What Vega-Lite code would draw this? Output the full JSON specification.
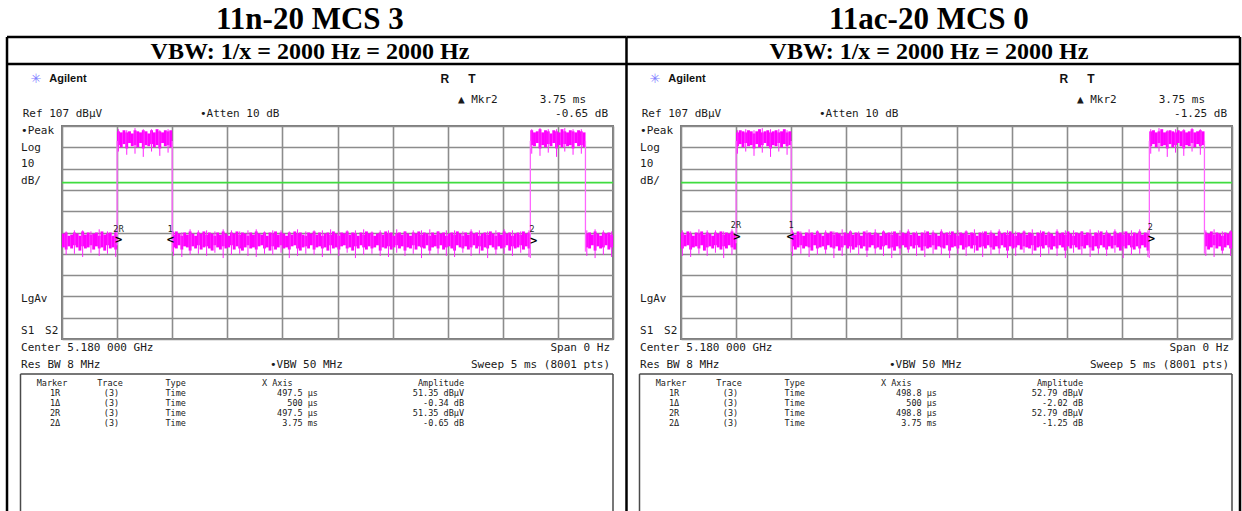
{
"$schema":"https://vega.github.io/schema/vega-lite/v6.json",
"padding":0,
"bounds":"flush",
"spacing":68,
"background":"#ffffff",
"config":{"view":{"stroke":"#7c7c7c","strokeWidth":2}},
"data":{"values":[
{"p":"L","k":"bg","t":-0.5445,"t2":5.3176,"a":165.685,"b":-74.22},
{"p":"R","k":"bg","t":-0.2995,"t2":5.1089,"a":165.685,"b":-74.22},
{"p":"L","k":"gl","t":0,"t2":5,"a":80.4},
{"p":"R","k":"gl","t":0,"t2":5,"a":80.4},
{"p":"L","k":"e","t":0.5,"a":51,"b":100},{"p":"L","k":"e","t":1.0,"a":48,"b":100},{"p":"L","k":"e","t":4.25,"a":45,"b":100},{"p":"L","k":"e","t":4.75,"a":48,"b":100},
{"p":"R","k":"e","t":0.5,"a":52,"b":100},{"p":"R","k":"e","t":1.0,"a":48,"b":100},{"p":"R","k":"e","t":4.25,"a":45,"b":100},{"p":"R","k":"e","t":4.75,"a":47,"b":100},
{"p":"L","k":"tb","t":-0.499,"t2":5.123,"a":148.8,"b":148.8},
{"p":"L","k":"tb","t":-0.499,"t2":5.123,"a":136.1,"b":136.1},
{"p":"L","k":"tb","t":-0.499,"t2":-0.499,"a":148.8,"b":-74.2},
{"p":"R","k":"tb","t":-0.4946,"t2":5.0726,"a":148.8,"b":148.8},
{"p":"R","k":"tb","t":-0.4946,"t2":5.0726,"a":136.1,"b":136.1},
{"p":"R","k":"tb","t":-0.4946,"t2":-0.4946,"a":148.8,"b":-74.2},
{"p":"R","k":"tb","t":5.0726,"t2":5.0726,"a":148.8,"b":-74.2},
{"p":"L","k":"bx","t":-0.3766,"t2":5.0,"a":-9.44,"b":-9.44},
{"p":"L","k":"bx","t":-0.3766,"t2":-0.3766,"a":-9.44,"b":-74.2},
{"p":"L","k":"bx","t":5.0,"t2":5.0,"a":-9.44,"b":-74.2},
{"p":"R","k":"bx","t":-0.3766,"t2":5.0,"a":-9.44,"b":-9.44},
{"p":"R","k":"bx","t":-0.3766,"t2":-0.3766,"a":-9.44,"b":-74.2},
{"p":"R","k":"bx","t":5.0,"t2":5.0,"a":-9.44,"b":-74.2},
{"p":"L","k":"ti","t":2.25,"a":152.5,"s":"11n-20 MCS 3"},
{"p":"R","k":"ti","t":2.25,"a":152.5,"s":"11ac-20 MCS 0"},
{"p":"L","k":"hd","t":2.25,"a":138.46,"s":"VBW: 1/x = 2000 Hz = 2000 Hz"},
{"p":"R","k":"hd","t":2.25,"a":138.46,"s":"VBW: 1/x = 2000 Hz = 2000 Hz"},
{"p":"L","k":"st","t":-0.236,"a":129.07,"s":"✳"},
{"p":"R","k":"st","t":-0.236,"a":129.07,"s":"✳"},
{"p":"L","k":"ag","t":-0.115,"a":129.07,"s":"Agilent"},
{"p":"R","k":"ag","t":-0.115,"a":129.07,"s":"Agilent"},
{"p":"L","k":"rt","t":3.475,"a":129.3,"s":"R"},{"p":"L","k":"rt","t":3.72,"a":129.3,"s":"T"},
{"p":"R","k":"rt","t":3.475,"a":129.3,"s":"R"},{"p":"R","k":"rt","t":3.72,"a":129.3,"s":"T"},
{"p":"L","k":"ml","t":3.593,"a":119.2,"s":"▲ Mkr2"},
{"p":"L","k":"ml","t":-0.357,"a":112.6,"s":"Ref 107 dBµV"},
{"p":"L","k":"ml","t":1.252,"a":112.6,"s":"•Atten 10 dB"},
{"p":"L","k":"ml","t":-0.372,"a":104.65,"s":"•Peak"},
{"p":"L","k":"ml","t":-0.372,"a":96.8,"s":"Log"},
{"p":"L","k":"ml","t":-0.372,"a":89.0,"s":"10"},
{"p":"L","k":"ml","t":-0.372,"a":81.2,"s":"dB/"},
{"p":"L","k":"ml","t":-0.372,"a":25.8,"s":"LgAv"},
{"p":"L","k":"ml","t":-0.372,"a":10.8,"s":"S1"},
{"p":"L","k":"ml","t":-0.154,"a":10.8,"s":"S2"},
{"p":"L","k":"ml","t":-0.372,"a":2.77,"s":"Center 5.180 000 GHz"},
{"p":"L","k":"ml","t":-0.372,"a":-5.2,"s":"Res BW 8 MHz"},
{"p":"L","k":"ml","t":1.887,"a":-5.2,"s":"•VBW 50 MHz"},
{"p":"R","k":"ml","t":3.593,"a":119.2,"s":"▲ Mkr2"},
{"p":"R","k":"ml","t":-0.357,"a":112.6,"s":"Ref 107 dBµV"},
{"p":"R","k":"ml","t":1.252,"a":112.6,"s":"•Atten 10 dB"},
{"p":"R","k":"ml","t":-0.372,"a":104.65,"s":"•Peak"},
{"p":"R","k":"ml","t":-0.372,"a":96.8,"s":"Log"},
{"p":"R","k":"ml","t":-0.372,"a":89.0,"s":"10"},
{"p":"R","k":"ml","t":-0.372,"a":81.2,"s":"dB/"},
{"p":"R","k":"ml","t":-0.372,"a":25.8,"s":"LgAv"},
{"p":"R","k":"ml","t":-0.372,"a":10.8,"s":"S1"},
{"p":"R","k":"ml","t":-0.154,"a":10.8,"s":"S2"},
{"p":"R","k":"ml","t":-0.372,"a":2.77,"s":"Center 5.180 000 GHz"},
{"p":"R","k":"ml","t":-0.372,"a":-5.2,"s":"Res BW 8 MHz"},
{"p":"R","k":"ml","t":1.887,"a":-5.2,"s":"•VBW 50 MHz"},
{"p":"L","k":"mr","t":4.755,"a":119.2,"s":"3.75 ms"},
{"p":"L","k":"mr","t":4.955,"a":112.6,"s":"-0.65 dB"},
{"p":"L","k":"mr","t":4.973,"a":2.77,"s":"Span 0 Hz"},
{"p":"L","k":"mr","t":4.973,"a":-5.2,"s":"Sweep 5 ms (8001 pts)"},
{"p":"R","k":"mr","t":4.755,"a":119.2,"s":"3.75 ms"},
{"p":"R","k":"mr","t":4.955,"a":112.6,"s":"-1.25 dB"},
{"p":"R","k":"mr","t":4.973,"a":2.77,"s":"Span 0 Hz"},
{"p":"R","k":"mr","t":4.973,"a":-5.2,"s":"Sweep 5 ms (8001 pts)"},
{"p":"L","k":"tc","t":-0.0907,"a":-13.66,"s":"Marker"},{"p":"L","k":"tc","t":0.4356,"a":-13.66,"s":"Trace"},
{"p":"L","k":"tc","t":-0.0635,"a":-18.35,"s":"1R"},{"p":"L","k":"tc","t":-0.0635,"a":-23.05,"s":"1Δ"},{"p":"L","k":"tc","t":-0.0635,"a":-27.74,"s":"2R"},{"p":"L","k":"tc","t":-0.0635,"a":-32.43,"s":"2Δ"},
{"p":"L","k":"tc","t":0.449,"a":-18.35,"s":"(3)"},{"p":"L","k":"tc","t":0.449,"a":-23.05,"s":"(3)"},{"p":"L","k":"tc","t":0.449,"a":-27.74,"s":"(3)"},{"p":"L","k":"tc","t":0.449,"a":-32.43,"s":"(3)"},
{"p":"L","k":"tl","t":0.939,"a":-13.66,"s":"Type"},{"p":"L","k":"tl","t":1.815,"a":-13.66,"s":"X Axis"},
{"p":"L","k":"tl","t":0.939,"a":-18.35,"s":"Time"},{"p":"L","k":"tl","t":0.939,"a":-23.05,"s":"Time"},{"p":"L","k":"tl","t":0.939,"a":-27.74,"s":"Time"},{"p":"L","k":"tl","t":0.939,"a":-32.43,"s":"Time"},
{"p":"L","k":"tr","t":2.323,"a":-18.35,"s":"497.5 µs"},{"p":"L","k":"tr","t":2.323,"a":-23.05,"s":"500 µs"},{"p":"L","k":"tr","t":2.323,"a":-27.74,"s":"497.5 µs"},{"p":"L","k":"tr","t":2.323,"a":-32.43,"s":"3.75 ms"},
{"p":"L","k":"tr","t":3.648,"a":-13.66,"s":"Amplitude"},{"p":"L","k":"tr","t":3.648,"a":-18.35,"s":"51.35 dBµV"},{"p":"L","k":"tr","t":3.648,"a":-23.05,"s":"-0.34 dB"},{"p":"L","k":"tr","t":3.648,"a":-27.74,"s":"51.35 dBµV"},{"p":"L","k":"tr","t":3.648,"a":-32.43,"s":"-0.65 dB"},
{"p":"R","k":"tc","t":-0.0907,"a":-13.66,"s":"Marker"},{"p":"R","k":"tc","t":0.4356,"a":-13.66,"s":"Trace"},
{"p":"R","k":"tc","t":-0.0635,"a":-18.35,"s":"1R"},{"p":"R","k":"tc","t":-0.0635,"a":-23.05,"s":"1Δ"},{"p":"R","k":"tc","t":-0.0635,"a":-27.74,"s":"2R"},{"p":"R","k":"tc","t":-0.0635,"a":-32.43,"s":"2Δ"},
{"p":"R","k":"tc","t":0.449,"a":-18.35,"s":"(3)"},{"p":"R","k":"tc","t":0.449,"a":-23.05,"s":"(3)"},{"p":"R","k":"tc","t":0.449,"a":-27.74,"s":"(3)"},{"p":"R","k":"tc","t":0.449,"a":-32.43,"s":"(3)"},
{"p":"R","k":"tl","t":0.939,"a":-13.66,"s":"Type"},{"p":"R","k":"tl","t":1.815,"a":-13.66,"s":"X Axis"},
{"p":"R","k":"tl","t":0.939,"a":-18.35,"s":"Time"},{"p":"R","k":"tl","t":0.939,"a":-23.05,"s":"Time"},{"p":"R","k":"tl","t":0.939,"a":-27.74,"s":"Time"},{"p":"R","k":"tl","t":0.939,"a":-32.43,"s":"Time"},
{"p":"R","k":"tr","t":2.323,"a":-18.35,"s":"498.8 µs"},{"p":"R","k":"tr","t":2.323,"a":-23.05,"s":"500 µs"},{"p":"R","k":"tr","t":2.323,"a":-27.74,"s":"498.8 µs"},{"p":"R","k":"tr","t":2.323,"a":-32.43,"s":"3.75 ms"},
{"p":"R","k":"tr","t":3.648,"a":-13.66,"s":"Amplitude"},{"p":"R","k":"tr","t":3.648,"a":-18.35,"s":"52.79 dBµV"},{"p":"R","k":"tr","t":3.648,"a":-23.05,"s":"-2.02 dB"},{"p":"R","k":"tr","t":3.648,"a":-27.74,"s":"52.79 dBµV"},{"p":"R","k":"tr","t":3.648,"a":-32.43,"s":"-1.25 dB"},
{"p":"L","k":"mk","t":0.514,"a":53.3,"s":">"},{"p":"L","k":"mk","t":0.983,"a":53.3,"s":"<"},{"p":"L","k":"mk","t":4.28,"a":52.8,"s":">"},
{"p":"L","k":"mkl","t":0.514,"a":58,"s":"2R"},{"p":"L","k":"mkl","t":0.983,"a":58.2,"s":"1"},{"p":"L","k":"mkl","t":4.265,"a":58.4,"s":"2"},
{"p":"R","k":"mk","t":0.508,"a":54.9,"s":">"},{"p":"R","k":"mk","t":0.99,"a":54.9,"s":"<"},{"p":"R","k":"mk","t":4.27,"a":53.8,"s":">"},
{"p":"R","k":"mkl","t":0.5,"a":60,"s":"2R"},{"p":"R","k":"mkl","t":1.0,"a":60,"s":"1"},{"p":"R","k":"mkl","t":4.259,"a":59.3,"s":"2"},
{"p":"L","t":0.0125,"a":50,"b":56.5},{"p":"L","t":0.0375,"a":49,"b":57,"c":46.5,"d":57.5},{"p":"L","t":0.0625,"a":50.5,"b":55.5},{"p":"L","t":0.0875,"a":49.5,"b":56},{"p":"L","t":0.1125,"a":51,"b":57,"c":47,"d":58},
{"p":"L","t":0.1375,"a":50,"b":56.5},{"p":"L","t":0.1625,"a":48.5,"b":55.5},{"p":"L","t":0.1875,"a":50.5,"b":57.5,"c":45.5,"d":58},{"p":"L","t":0.2125,"a":49.5,"b":56},{"p":"L","t":0.2375,"a":50,"b":57},
{"p":"L","t":0.2625,"a":51,"b":56,"c":47.5,"d":57.5},{"p":"L","t":0.2875,"a":49,"b":56.5},{"p":"L","t":0.3125,"a":50.5,"b":57},{"p":"L","t":0.3375,"a":49.5,"b":55.5,"c":46,"d":58.5},{"p":"L","t":0.3625,"a":50,"b":57.5},
{"p":"L","t":0.3875,"a":48.5,"b":56},{"p":"L","t":0.4125,"a":51,"b":56.5,"c":47,"d":57.5},{"p":"L","t":0.4375,"a":49.5,"b":57},{"p":"L","t":0.4625,"a":50,"b":55.5},{"p":"L","t":0.4875,"a":49,"b":57,"c":45.5,"d":58},
{"p":"L","t":0.5125,"a":98,"b":104.5,"c":95,"d":105.5},{"p":"L","t":0.5375,"a":97,"b":104},{"p":"L","t":0.5625,"a":98.5,"b":105},{"p":"L","t":0.5875,"a":96.5,"b":104,"c":93.5,"d":105},{"p":"L","t":0.6125,"a":99,"b":104.5},
{"p":"L","t":0.6375,"a":97.5,"b":103.5},{"p":"L","t":0.6625,"a":98,"b":105,"c":94,"d":106},{"p":"L","t":0.6875,"a":97,"b":104.5},{"p":"L","t":0.7125,"a":99,"b":104},{"p":"L","t":0.7375,"a":96.5,"b":105,"c":92.5,"d":105.5},
{"p":"L","t":0.7625,"a":98,"b":104.5},{"p":"L","t":0.7875,"a":97.5,"b":103.5},{"p":"L","t":0.8125,"a":98.5,"b":105,"c":95,"d":105.5},{"p":"L","t":0.8375,"a":97,"b":104},{"p":"L","t":0.8625,"a":98,"b":105.5},
{"p":"L","t":0.8875,"a":96.5,"b":104.5,"c":93,"d":105},{"p":"L","t":0.9125,"a":99,"b":104},{"p":"L","t":0.9375,"a":97.5,"b":105},{"p":"L","t":0.9625,"a":98,"b":104.5,"c":94.5,"d":105.5},{"p":"L","t":0.9875,"a":97,"b":105},
{"p":"L","t":1.0125,"a":50,"b":56,"c":46,"d":57.5},{"p":"L","t":1.0375,"a":49.5,"b":57.5},{"p":"L","t":1.0625,"a":51,"b":56.5},{"p":"L","t":1.0875,"a":49,"b":55.5,"c":45.5,"d":57},{"p":"L","t":1.1125,"a":50.5,"b":57},
{"p":"L","t":1.1375,"a":50,"b":56},{"p":"L","t":1.1625,"a":48.5,"b":57.5,"c":46.5,"d":58.5},{"p":"L","t":1.1875,"a":50.5,"b":56.5},{"p":"L","t":1.2125,"a":49.5,"b":55.5},{"p":"L","t":1.2375,"a":51,"b":57,"c":47,"d":58},
{"p":"L","t":1.2625,"a":49,"b":56.5},{"p":"L","t":1.2875,"a":50,"b":57.5},{"p":"L","t":1.3125,"a":50.5,"b":56,"c":46,"d":58},{"p":"L","t":1.3375,"a":49.5,"b":57},{"p":"L","t":1.3625,"a":48.5,"b":56.5},
{"p":"L","t":1.3875,"a":51,"b":55.5,"c":47.5,"d":57.5},{"p":"L","t":1.4125,"a":50,"b":57},{"p":"L","t":1.4375,"a":49,"b":56},{"p":"L","t":1.4625,"a":50.5,"b":57.5,"c":45,"d":58.5},{"p":"L","t":1.4875,"a":49.5,"b":56.5},
{"p":"L","t":1.5125,"a":50,"b":55.5},{"p":"L","t":1.5375,"a":51,"b":57,"c":46.5,"d":58},{"p":"L","t":1.5625,"a":49,"b":56.5},{"p":"L","t":1.5875,"a":50.5,"b":57.5},{"p":"L","t":1.6125,"a":49.5,"b":56,"c":47,"d":57.5},
{"p":"L","t":1.6375,"a":48.5,"b":57},{"p":"L","t":1.6625,"a":50,"b":56.5},{"p":"L","t":1.6875,"a":51,"b":55.5,"c":46,"d":58},{"p":"L","t":1.7125,"a":49.5,"b":57},{"p":"L","t":1.7375,"a":50,"b":56},
{"p":"L","t":1.7625,"a":49,"b":57.5,"c":45.5,"d":58.5},{"p":"L","t":1.7875,"a":50.5,"b":56.5},{"p":"L","t":1.8125,"a":51,"b":56},{"p":"L","t":1.8375,"a":49.5,"b":57,"c":47,"d":57.5},{"p":"L","t":1.8625,"a":50,"b":55.5},
{"p":"L","t":1.8875,"a":48.5,"b":57},{"p":"L","t":1.9125,"a":50.5,"b":56.5,"c":46.5,"d":58},{"p":"L","t":1.9375,"a":49,"b":57.5},{"p":"L","t":1.9625,"a":50,"b":56},{"p":"L","t":1.9875,"a":51,"b":57,"c":47.5,"d":58},
{"p":"L","t":2.0125,"a":49.5,"b":56.5},{"p":"L","t":2.0375,"a":50,"b":55.5},{"p":"L","t":2.0625,"a":49,"b":57,"c":45,"d":57.5},{"p":"L","t":2.0875,"a":50.5,"b":56},{"p":"L","t":2.1125,"a":51,"b":57.5},
{"p":"L","t":2.1375,"a":49.5,"b":56.5,"c":46,"d":58.5},{"p":"L","t":2.1625,"a":48.5,"b":57},{"p":"L","t":2.1875,"a":50,"b":56},{"p":"L","t":2.2125,"a":50.5,"b":55.5,"c":47,"d":57.5},{"p":"L","t":2.2375,"a":49.5,"b":57},
{"p":"L","t":2.2625,"a":51,"b":56.5},{"p":"L","t":2.2875,"a":49,"b":57.5,"c":46.5,"d":58},{"p":"L","t":2.3125,"a":50,"b":56},{"p":"L","t":2.3375,"a":50.5,"b":57},{"p":"L","t":2.3625,"a":49.5,"b":55.5,"c":45.5,"d":58},
{"p":"L","t":2.3875,"a":50,"b":56.5},{"p":"L","t":2.4125,"a":48.5,"b":57},{"p":"L","t":2.4375,"a":51,"b":56,"c":47,"d":58.5},{"p":"L","t":2.4625,"a":49.5,"b":57.5},{"p":"L","t":2.4875,"a":50,"b":56.5},
{"p":"L","t":2.5125,"a":49,"b":55.5,"c":46,"d":57.5},{"p":"L","t":2.5375,"a":50.5,"b":57},{"p":"L","t":2.5625,"a":51,"b":56.5},{"p":"L","t":2.5875,"a":49.5,"b":57.5,"c":47.5,"d":58},{"p":"L","t":2.6125,"a":50,"b":56},
{"p":"L","t":2.6375,"a":48.5,"b":57},{"p":"L","t":2.6625,"a":50.5,"b":56.5,"c":45,"d":58},{"p":"L","t":2.6875,"a":49.5,"b":55.5},{"p":"L","t":2.7125,"a":51,"b":57},{"p":"L","t":2.7375,"a":50,"b":56,"c":46.5,"d":58.5},
{"p":"L","t":2.7625,"a":49,"b":57.5},{"p":"L","t":2.7875,"a":50.5,"b":56.5},{"p":"L","t":2.8125,"a":49.5,"b":57,"c":47,"d":57.5},{"p":"L","t":2.8375,"a":50,"b":55.5},{"p":"L","t":2.8625,"a":51,"b":56.5},
{"p":"L","t":2.8875,"a":48.5,"b":57,"c":46,"d":58},{"p":"L","t":2.9125,"a":50,"b":56},{"p":"L","t":2.9375,"a":49.5,"b":57.5},{"p":"L","t":2.9625,"a":50.5,"b":56.5,"c":45.5,"d":58},{"p":"L","t":2.9875,"a":49,"b":57},
{"p":"L","t":3.0125,"a":50,"b":55.5},{"p":"L","t":3.0375,"a":51,"b":56.5,"c":47.5,"d":58.5},{"p":"L","t":3.0625,"a":49.5,"b":57},{"p":"L","t":3.0875,"a":50.5,"b":56},{"p":"L","t":3.1125,"a":48.5,"b":57.5,"c":46,"d":57.5},
{"p":"L","t":3.1375,"a":50,"b":56.5},{"p":"L","t":3.1625,"a":49.5,"b":55.5},{"p":"L","t":3.1875,"a":51,"b":57,"c":47,"d":58},{"p":"L","t":3.2125,"a":49,"b":56.5},{"p":"L","t":3.2375,"a":50.5,"b":57.5},
{"p":"L","t":3.2625,"a":50,"b":56,"c":45,"d":58},{"p":"L","t":3.2875,"a":49.5,"b":57},{"p":"L","t":3.3125,"a":51,"b":56.5},{"p":"L","t":3.3375,"a":48.5,"b":55.5,"c":46.5,"d":58.5},{"p":"L","t":3.3625,"a":50,"b":57},
{"p":"L","t":3.3875,"a":50.5,"b":56},{"p":"L","t":3.4125,"a":49.5,"b":57.5,"c":47,"d":57.5},{"p":"L","t":3.4375,"a":51,"b":56.5},{"p":"L","t":3.4625,"a":49,"b":57},{"p":"L","t":3.4875,"a":50,"b":55.5,"c":46,"d":58},
{"p":"L","t":3.5125,"a":50.5,"b":56.5},{"p":"L","t":3.5375,"a":49.5,"b":57},{"p":"L","t":3.5625,"a":48.5,"b":56,"c":45.5,"d":58},{"p":"L","t":3.5875,"a":51,"b":57.5},{"p":"L","t":3.6125,"a":50,"b":56.5},
{"p":"L","t":3.6375,"a":49.5,"b":55.5,"c":47.5,"d":57.5},{"p":"L","t":3.6625,"a":50.5,"b":57},{"p":"L","t":3.6875,"a":49,"b":56},{"p":"L","t":3.7125,"a":50,"b":57.5,"c":46,"d":58.5},{"p":"L","t":3.7375,"a":51,"b":56.5},
{"p":"L","t":3.7625,"a":49.5,"b":57},{"p":"L","t":3.7875,"a":50.5,"b":55.5,"c":47,"d":58},{"p":"L","t":3.8125,"a":48.5,"b":56.5},{"p":"L","t":3.8375,"a":50,"b":57},{"p":"L","t":3.8625,"a":49.5,"b":56,"c":45,"d":57.5},
{"p":"L","t":3.8875,"a":51,"b":57.5},{"p":"L","t":3.9125,"a":50,"b":56.5},{"p":"L","t":3.9375,"a":49,"b":55.5,"c":46.5,"d":58},{"p":"L","t":3.9625,"a":50.5,"b":57},{"p":"L","t":3.9875,"a":49.5,"b":56},
{"p":"L","t":4.0125,"a":50,"b":57.5,"c":47,"d":58.5},{"p":"L","t":4.0375,"a":51,"b":56.5},{"p":"L","t":4.0625,"a":48.5,"b":57},{"p":"L","t":4.0875,"a":50.5,"b":55.5,"c":46,"d":58},{"p":"L","t":4.1125,"a":49.5,"b":56.5},
{"p":"L","t":4.1375,"a":50,"b":57},{"p":"L","t":4.1625,"a":51,"b":56,"c":47.5,"d":57.5},{"p":"L","t":4.1875,"a":49,"b":57.5},{"p":"L","t":4.2125,"a":50.5,"b":56.5},{"p":"L","t":4.2375,"a":49.5,"b":57,"c":45.5,"d":58},
{"p":"L","t":4.2625,"a":98,"b":105,"c":94,"d":105.5},{"p":"L","t":4.2875,"a":97.5,"b":104},{"p":"L","t":4.3125,"a":99,"b":104.5},{"p":"L","t":4.3375,"a":96.5,"b":105.5,"c":93,"d":106},{"p":"L","t":4.3625,"a":98,"b":104},
{"p":"L","t":4.3875,"a":97,"b":105},{"p":"L","t":4.4125,"a":98.5,"b":104.5,"c":94.5,"d":105.5},{"p":"L","t":4.4375,"a":97.5,"b":103.5},{"p":"L","t":4.4625,"a":99,"b":105},{"p":"L","t":4.4875,"a":96.5,"b":104.5,"c":92.5,"d":105.5},
{"p":"L","t":4.5125,"a":98,"b":104},{"p":"L","t":4.5375,"a":97,"b":105.5},{"p":"L","t":4.5625,"a":98.5,"b":104.5,"c":95,"d":106},{"p":"L","t":4.5875,"a":97.5,"b":104},{"p":"L","t":4.6125,"a":98,"b":105},
{"p":"L","t":4.6375,"a":96.5,"b":104.5,"c":93.5,"d":105.5},{"p":"L","t":4.6625,"a":99,"b":104},{"p":"L","t":4.6875,"a":97.5,"b":105},{"p":"L","t":4.7125,"a":98,"b":104.5,"c":94,"d":105.5},{"p":"L","t":4.7375,"a":97,"b":104},
{"p":"L","t":4.7625,"a":50,"b":56.5,"c":46,"d":58},{"p":"L","t":4.7875,"a":49.5,"b":57},{"p":"L","t":4.8125,"a":51,"b":56},{"p":"L","t":4.8375,"a":48.5,"b":57.5,"c":45,"d":58.5},{"p":"L","t":4.8625,"a":50.5,"b":56.5},
{"p":"L","t":4.8875,"a":49.5,"b":55.5},{"p":"L","t":4.9125,"a":50,"b":57,"c":46.5,"d":58},{"p":"L","t":4.9375,"a":51,"b":56.5},{"p":"L","t":4.9625,"a":49,"b":57},{"p":"L","t":4.9875,"a":50,"b":56,"c":45.5,"d":57.5},
{"p":"R","t":0.0125,"a":49.5,"b":57,"c":46,"d":58},{"p":"R","t":0.0375,"a":50.5,"b":56},{"p":"R","t":0.0625,"a":51,"b":57.5},{"p":"R","t":0.0875,"a":49,"b":56.5,"c":45.5,"d":57.5},{"p":"R","t":0.1125,"a":50,"b":55.5},
{"p":"R","t":0.1375,"a":50.5,"b":57},{"p":"R","t":0.1625,"a":49.5,"b":56.5,"c":47,"d":58.5},{"p":"R","t":0.1875,"a":51,"b":57.5},{"p":"R","t":0.2125,"a":48.5,"b":56},{"p":"R","t":0.2375,"a":50,"b":57,"c":46,"d":58},
{"p":"R","t":0.2625,"a":50.5,"b":56.5},{"p":"R","t":0.2875,"a":49.5,"b":55.5},{"p":"R","t":0.3125,"a":51,"b":57,"c":47.5,"d":58},{"p":"R","t":0.3375,"a":50,"b":56.5},{"p":"R","t":0.3625,"a":49,"b":57.5},
{"p":"R","t":0.3875,"a":50.5,"b":56,"c":45,"d":57.5},{"p":"R","t":0.4125,"a":49.5,"b":57},{"p":"R","t":0.4375,"a":51,"b":56.5},{"p":"R","t":0.4625,"a":50,"b":57.5,"c":46.5,"d":58.5},{"p":"R","t":0.4875,"a":49,"b":56},
{"p":"R","t":0.5125,"a":97.5,"b":104,"c":94,"d":105},{"p":"R","t":0.5375,"a":98.5,"b":105},{"p":"R","t":0.5625,"a":97,"b":104.5},{"p":"R","t":0.5875,"a":99,"b":104,"c":95,"d":105.5},{"p":"R","t":0.6125,"a":97.5,"b":105},
{"p":"R","t":0.6375,"a":98,"b":104.5},{"p":"R","t":0.6625,"a":96.5,"b":103.5,"c":93,"d":105},{"p":"R","t":0.6875,"a":98.5,"b":104.5},{"p":"R","t":0.7125,"a":97,"b":105.5},{"p":"R","t":0.7375,"a":98,"b":104,"c":94.5,"d":106},
{"p":"R","t":0.7625,"a":99,"b":104.5},{"p":"R","t":0.7875,"a":97.5,"b":105},{"p":"R","t":0.8125,"a":96.5,"b":104,"c":92.5,"d":105.5},{"p":"R","t":0.8375,"a":98,"b":104.5},{"p":"R","t":0.8625,"a":97.5,"b":105},
{"p":"R","t":0.8875,"a":99,"b":104,"c":95,"d":105.5},{"p":"R","t":0.9125,"a":97,"b":104.5},{"p":"R","t":0.9375,"a":98.5,"b":105.5},{"p":"R","t":0.9625,"a":97.5,"b":104,"c":93.5,"d":105},{"p":"R","t":0.9875,"a":98,"b":104.5},
{"p":"R","t":1.0125,"a":50.5,"b":57,"c":46,"d":58},{"p":"R","t":1.0375,"a":49,"b":56},{"p":"R","t":1.0625,"a":50,"b":57.5},{"p":"R","t":1.0875,"a":51,"b":56.5,"c":47,"d":57.5},{"p":"R","t":1.1125,"a":49.5,"b":55.5},
{"p":"R","t":1.1375,"a":50.5,"b":57},{"p":"R","t":1.1625,"a":50,"b":56.5,"c":45.5,"d":58.5},{"p":"R","t":1.1875,"a":48.5,"b":57},{"p":"R","t":1.2125,"a":51,"b":56},{"p":"R","t":1.2375,"a":49.5,"b":57.5,"c":46.5,"d":58},
{"p":"R","t":1.2625,"a":50,"b":56.5},{"p":"R","t":1.2875,"a":50.5,"b":55.5},{"p":"R","t":1.3125,"a":49,"b":57,"c":47,"d":58},{"p":"R","t":1.3375,"a":51,"b":56.5},{"p":"R","t":1.3625,"a":50,"b":57.5},
{"p":"R","t":1.3875,"a":49.5,"b":56,"c":45,"d":57.5},{"p":"R","t":1.4125,"a":50.5,"b":57},{"p":"R","t":1.4375,"a":48.5,"b":56.5},{"p":"R","t":1.4625,"a":50,"b":55.5,"c":46,"d":58.5},{"p":"R","t":1.4875,"a":51,"b":57},
{"p":"R","t":1.5125,"a":49.5,"b":56.5},{"p":"R","t":1.5375,"a":50.5,"b":57.5,"c":47.5,"d":58},{"p":"R","t":1.5625,"a":49,"b":56},{"p":"R","t":1.5875,"a":50,"b":57},{"p":"R","t":1.6125,"a":51,"b":56.5,"c":46.5,"d":57.5},
{"p":"R","t":1.6375,"a":49.5,"b":55.5},{"p":"R","t":1.6625,"a":50.5,"b":57.5},{"p":"R","t":1.6875,"a":48.5,"b":56.5,"c":45.5,"d":58},{"p":"R","t":1.7125,"a":50,"b":57},{"p":"R","t":1.7375,"a":51,"b":56},
{"p":"R","t":1.7625,"a":49.5,"b":57,"c":47,"d":58.5},{"p":"R","t":1.7875,"a":50,"b":56.5},{"p":"R","t":1.8125,"a":49,"b":55.5},{"p":"R","t":1.8375,"a":50.5,"b":57.5,"c":46,"d":58},{"p":"R","t":1.8625,"a":51,"b":56.5},
{"p":"R","t":1.8875,"a":49.5,"b":57},{"p":"R","t":1.9125,"a":50,"b":56,"c":45,"d":57.5},{"p":"R","t":1.9375,"a":48.5,"b":57.5},{"p":"R","t":1.9625,"a":50.5,"b":56.5},{"p":"R","t":1.9875,"a":49.5,"b":55.5,"c":46.5,"d":58},
{"p":"R","t":2.0125,"a":51,"b":57},{"p":"R","t":2.0375,"a":50,"b":56.5},{"p":"R","t":2.0625,"a":49,"b":57.5,"c":47.5,"d":58.5},{"p":"R","t":2.0875,"a":50.5,"b":56},{"p":"R","t":2.1125,"a":49.5,"b":57},
{"p":"R","t":2.1375,"a":51,"b":56.5,"c":46,"d":57.5},{"p":"R","t":2.1625,"a":50,"b":55.5},{"p":"R","t":2.1875,"a":48.5,"b":57},{"p":"R","t":2.2125,"a":50.5,"b":56.5,"c":45.5,"d":58},{"p":"R","t":2.2375,"a":49.5,"b":57.5},
{"p":"R","t":2.2625,"a":50,"b":56},{"p":"R","t":2.2875,"a":51,"b":57,"c":47,"d":58},{"p":"R","t":2.3125,"a":49,"b":56.5},{"p":"R","t":2.3375,"a":50.5,"b":55.5},{"p":"R","t":2.3625,"a":50,"b":57.5,"c":46.5,"d":58.5},
{"p":"R","t":2.3875,"a":49.5,"b":56.5},{"p":"R","t":2.4125,"a":51,"b":57},{"p":"R","t":2.4375,"a":48.5,"b":56,"c":45,"d":57.5},{"p":"R","t":2.4625,"a":50,"b":57.5},{"p":"R","t":2.4875,"a":50.5,"b":56.5},
{"p":"R","t":2.5125,"a":49.5,"b":55.5,"c":47,"d":58},{"p":"R","t":2.5375,"a":51,"b":57},{"p":"R","t":2.5625,"a":49,"b":56.5},{"p":"R","t":2.5875,"a":50,"b":57.5,"c":46,"d":58},{"p":"R","t":2.6125,"a":50.5,"b":56},
{"p":"R","t":2.6375,"a":49.5,"b":57},{"p":"R","t":2.6625,"a":51,"b":56.5,"c":47.5,"d":58.5},{"p":"R","t":2.6875,"a":48.5,"b":55.5},{"p":"R","t":2.7125,"a":50,"b":57},{"p":"R","t":2.7375,"a":50.5,"b":56.5,"c":45.5,"d":57.5},
{"p":"R","t":2.7625,"a":49.5,"b":57.5},{"p":"R","t":2.7875,"a":51,"b":56},{"p":"R","t":2.8125,"a":50,"b":57,"c":46.5,"d":58},{"p":"R","t":2.8375,"a":49,"b":56.5},{"p":"R","t":2.8625,"a":50.5,"b":55.5},
{"p":"R","t":2.8875,"a":49.5,"b":57.5,"c":47,"d":58.5},{"p":"R","t":2.9125,"a":51,"b":56.5},{"p":"R","t":2.9375,"a":50,"b":57},{"p":"R","t":2.9625,"a":48.5,"b":56,"c":45,"d":58},{"p":"R","t":2.9875,"a":50.5,"b":57.5},
{"p":"R","t":3.0125,"a":49.5,"b":56.5},{"p":"R","t":3.0375,"a":50,"b":55.5,"c":46,"d":57.5},{"p":"R","t":3.0625,"a":51,"b":57},{"p":"R","t":3.0875,"a":49,"b":56.5},{"p":"R","t":3.1125,"a":50.5,"b":57.5,"c":47.5,"d":58},
{"p":"R","t":3.1375,"a":50,"b":56},{"p":"R","t":3.1625,"a":49.5,"b":57},{"p":"R","t":3.1875,"a":51,"b":56.5,"c":46.5,"d":58.5},{"p":"R","t":3.2125,"a":48.5,"b":55.5},{"p":"R","t":3.2375,"a":50,"b":57},
{"p":"R","t":3.2625,"a":50.5,"b":56.5,"c":45.5,"d":58},{"p":"R","t":3.2875,"a":49.5,"b":57.5},{"p":"R","t":3.3125,"a":51,"b":56},{"p":"R","t":3.3375,"a":50,"b":57,"c":47,"d":57.5},{"p":"R","t":3.3625,"a":49,"b":56.5},
{"p":"R","t":3.3875,"a":50.5,"b":55.5},{"p":"R","t":3.4125,"a":49.5,"b":57.5,"c":46,"d":58.5},{"p":"R","t":3.4375,"a":51,"b":56.5},{"p":"R","t":3.4625,"a":50,"b":57},{"p":"R","t":3.4875,"a":48.5,"b":56,"c":45,"d":58},
{"p":"R","t":3.5125,"a":50.5,"b":57.5},{"p":"R","t":3.5375,"a":49.5,"b":56.5},{"p":"R","t":3.5625,"a":51,"b":55.5,"c":47.5,"d":58},{"p":"R","t":3.5875,"a":50,"b":57},{"p":"R","t":3.6125,"a":49,"b":56.5},
{"p":"R","t":3.6375,"a":50.5,"b":57.5,"c":46.5,"d":57.5},{"p":"R","t":3.6625,"a":49.5,"b":56},{"p":"R","t":3.6875,"a":51,"b":57},{"p":"R","t":3.7125,"a":50,"b":56.5,"c":45.5,"d":58.5},{"p":"R","t":3.7375,"a":48.5,"b":55.5},
{"p":"R","t":3.7625,"a":50.5,"b":57},{"p":"R","t":3.7875,"a":49.5,"b":56.5,"c":47,"d":58},{"p":"R","t":3.8125,"a":51,"b":57.5},{"p":"R","t":3.8375,"a":50,"b":56},{"p":"R","t":3.8625,"a":49,"b":57,"c":46,"d":58},
{"p":"R","t":3.8875,"a":50.5,"b":56.5},{"p":"R","t":3.9125,"a":49.5,"b":55.5},{"p":"R","t":3.9375,"a":51,"b":57.5,"c":47.5,"d":58.5},{"p":"R","t":3.9625,"a":50,"b":56.5},{"p":"R","t":3.9875,"a":48.5,"b":57},
{"p":"R","t":4.0125,"a":50.5,"b":56,"c":45,"d":57.5},{"p":"R","t":4.0375,"a":49.5,"b":57.5},{"p":"R","t":4.0625,"a":51,"b":56.5},{"p":"R","t":4.0875,"a":50,"b":55.5,"c":46.5,"d":58},{"p":"R","t":4.1125,"a":49,"b":57},
{"p":"R","t":4.1375,"a":50.5,"b":56.5},{"p":"R","t":4.1625,"a":49.5,"b":57.5,"c":47,"d":58.5},{"p":"R","t":4.1875,"a":51,"b":56},{"p":"R","t":4.2125,"a":50,"b":57},{"p":"R","t":4.2375,"a":48.5,"b":56.5,"c":45.5,"d":58},
{"p":"R","t":4.2625,"a":97.5,"b":104.5,"c":94,"d":105.5},{"p":"R","t":4.2875,"a":98.5,"b":105},{"p":"R","t":4.3125,"a":97,"b":104},{"p":"R","t":4.3375,"a":99,"b":104.5,"c":95,"d":106},{"p":"R","t":4.3625,"a":97.5,"b":105.5},
{"p":"R","t":4.3875,"a":98,"b":104},{"p":"R","t":4.4125,"a":96.5,"b":104.5,"c":92.5,"d":105},{"p":"R","t":4.4375,"a":98.5,"b":105},{"p":"R","t":4.4625,"a":97,"b":104.5},{"p":"R","t":4.4875,"a":98,"b":104,"c":94.5,"d":105.5},
{"p":"R","t":4.5125,"a":99,"b":105},{"p":"R","t":4.5375,"a":97.5,"b":104.5},{"p":"R","t":4.5625,"a":96.5,"b":105,"c":93,"d":105.5},{"p":"R","t":4.5875,"a":98,"b":104},{"p":"R","t":4.6125,"a":97.5,"b":104.5},
{"p":"R","t":4.6375,"a":99,"b":105.5,"c":95,"d":106},{"p":"R","t":4.6625,"a":97,"b":104},{"p":"R","t":4.6875,"a":98.5,"b":104.5},{"p":"R","t":4.7125,"a":97.5,"b":105,"c":93.5,"d":105.5},{"p":"R","t":4.7375,"a":98,"b":104.5},
{"p":"R","t":4.7625,"a":50.5,"b":57,"c":46,"d":58},{"p":"R","t":4.7875,"a":49,"b":56.5},{"p":"R","t":4.8125,"a":50,"b":57.5},{"p":"R","t":4.8375,"a":51,"b":56,"c":45.5,"d":58.5},{"p":"R","t":4.8625,"a":49.5,"b":57},
{"p":"R","t":4.8875,"a":50.5,"b":56.5},{"p":"R","t":4.9125,"a":48.5,"b":55.5,"c":47,"d":57.5},{"p":"R","t":4.9375,"a":50,"b":57},{"p":"R","t":4.9625,"a":51,"b":56.5},{"p":"R","t":4.9875,"a":49.5,"b":57.5,"c":46,"d":58}
]},
"facet":{"column":{"field":"p","type":"nominal","header":null}},
"spec":{
"width":551,"height":213,
"encoding":{
"x":{"field":"t","type":"quantitative","scale":{"domain":[0,5],"nice":false,"zero":false},"axis":{"values":[0,0.5,1,1.5,2,2.5,3,3.5,4,4.5,5],"grid":true,"labels":false,"ticks":false,"domain":false,"title":null,"gridColor":"#8c8c8c","gridWidth":1.6,"gridOpacity":1}},
"y":{"field":"a","type":"quantitative","scale":{"domain":[7,107],"nice":false,"zero":false},"axis":{"values":[7,17,27,37,47,57,67,77,87,97,107],"grid":true,"labels":false,"ticks":false,"domain":false,"title":null,"gridColor":"#8c8c8c","gridWidth":1.6,"gridOpacity":1}}
},
"layer":[
{"transform":[{"filter":"datum.k==='bg'"}],"mark":{"type":"rect","fill":"#ffffff","fillOpacity":0,"strokeWidth":0},"encoding":{"x2":{"field":"t2"},"y2":{"field":"b"}}},
{"transform":[{"filter":"datum.k==='gl'"}],"mark":{"type":"rule","color":"#3fdc3f","strokeWidth":1.6},"encoding":{"x2":{"field":"t2"}}},
{"transform":[{"filter":"!datum.k"}],"mark":{"type":"rule","color":"#ff00ff","strokeWidth":2.9},"encoding":{"y2":{"field":"b"}}},
{"transform":[{"filter":"!datum.k && isValid(datum.c)"}],"mark":{"type":"rule","color":"#ff22ff","strokeWidth":1},"encoding":{"y":{"field":"c","type":"quantitative","axis":{"values":[7,17,27,37,47,57,67,77,87,97,107],"grid":true,"labels":false,"ticks":false,"domain":false,"title":null,"gridColor":"#8c8c8c","gridWidth":1.6,"gridOpacity":1}},"y2":{"field":"d"}}},
{"transform":[{"filter":"datum.k==='e'"}],"mark":{"type":"rule","color":"#ff66ff","strokeWidth":1.3},"encoding":{"y2":{"field":"b"}}},
{"transform":[{"filter":"datum.k==='tb'"}],"mark":{"type":"rule","color":"#000000","strokeWidth":2.5},"encoding":{"x2":{"field":"t2"},"y2":{"field":"b"}}},
{"transform":[{"filter":"datum.k==='bx'"}],"mark":{"type":"rule","color":"#4a4a4a","strokeWidth":1.5},"encoding":{"x2":{"field":"t2"},"y2":{"field":"b"}}},
{"transform":[{"filter":"datum.k==='ti'"}],"mark":{"type":"text","font":"Liberation Serif","fontWeight":"bold","fontSize":31,"align":"center","baseline":"alphabetic","color":"#000000"},"encoding":{"text":{"field":"s"}}},
{"transform":[{"filter":"datum.k==='hd'"}],"mark":{"type":"text","font":"Liberation Serif","fontWeight":"bold","fontSize":24,"align":"center","baseline":"alphabetic","color":"#000000"},"encoding":{"text":{"field":"s"}}},
{"transform":[{"filter":"datum.k==='st'"}],"mark":{"type":"text","font":"DejaVu Sans","fontSize":13,"align":"center","baseline":"middle","color":"#8080ff"},"encoding":{"text":{"field":"s"}}},
{"transform":[{"filter":"datum.k==='ag'"}],"mark":{"type":"text","font":"Liberation Sans","fontWeight":"bold","fontSize":11,"align":"left","baseline":"middle","color":"#111111"},"encoding":{"text":{"field":"s"}}},
{"transform":[{"filter":"datum.k==='rt'"}],"mark":{"type":"text","font":"Liberation Sans","fontWeight":"bold","fontSize":12,"align":"center","baseline":"middle","color":"#111111"},"encoding":{"text":{"field":"s"}}},
{"transform":[{"filter":"datum.k==='ml'"}],"mark":{"type":"text","font":"DejaVu Sans Mono","fontSize":11,"align":"left","baseline":"middle","color":"#1a1a1a"},"encoding":{"text":{"field":"s"}}},
{"transform":[{"filter":"datum.k==='mr'"}],"mark":{"type":"text","font":"DejaVu Sans Mono","fontSize":11,"align":"right","baseline":"middle","color":"#1a1a1a"},"encoding":{"text":{"field":"s"}}},
{"transform":[{"filter":"datum.k==='tc'"}],"mark":{"type":"text","font":"DejaVu Sans Mono","fontSize":8.5,"align":"center","baseline":"middle","color":"#1a1a1a"},"encoding":{"text":{"field":"s"}}},
{"transform":[{"filter":"datum.k==='tl'"}],"mark":{"type":"text","font":"DejaVu Sans Mono","fontSize":8.5,"align":"left","baseline":"middle","color":"#1a1a1a"},"encoding":{"text":{"field":"s"}}},
{"transform":[{"filter":"datum.k==='tr'"}],"mark":{"type":"text","font":"DejaVu Sans Mono","fontSize":8.5,"align":"right","baseline":"middle","color":"#1a1a1a"},"encoding":{"text":{"field":"s"}}},
{"transform":[{"filter":"datum.k==='mk'"}],"mark":{"type":"text","font":"DejaVu Sans","fontWeight":"bold","fontSize":10,"align":"center","baseline":"middle","color":"#000000"},"encoding":{"text":{"field":"s"}}},
{"transform":[{"filter":"datum.k==='mkl'"}],"mark":{"type":"text","font":"DejaVu Sans","fontSize":8,"align":"center","baseline":"middle","color":"#222222"},"encoding":{"text":{"field":"s"}}}
]
}
}
